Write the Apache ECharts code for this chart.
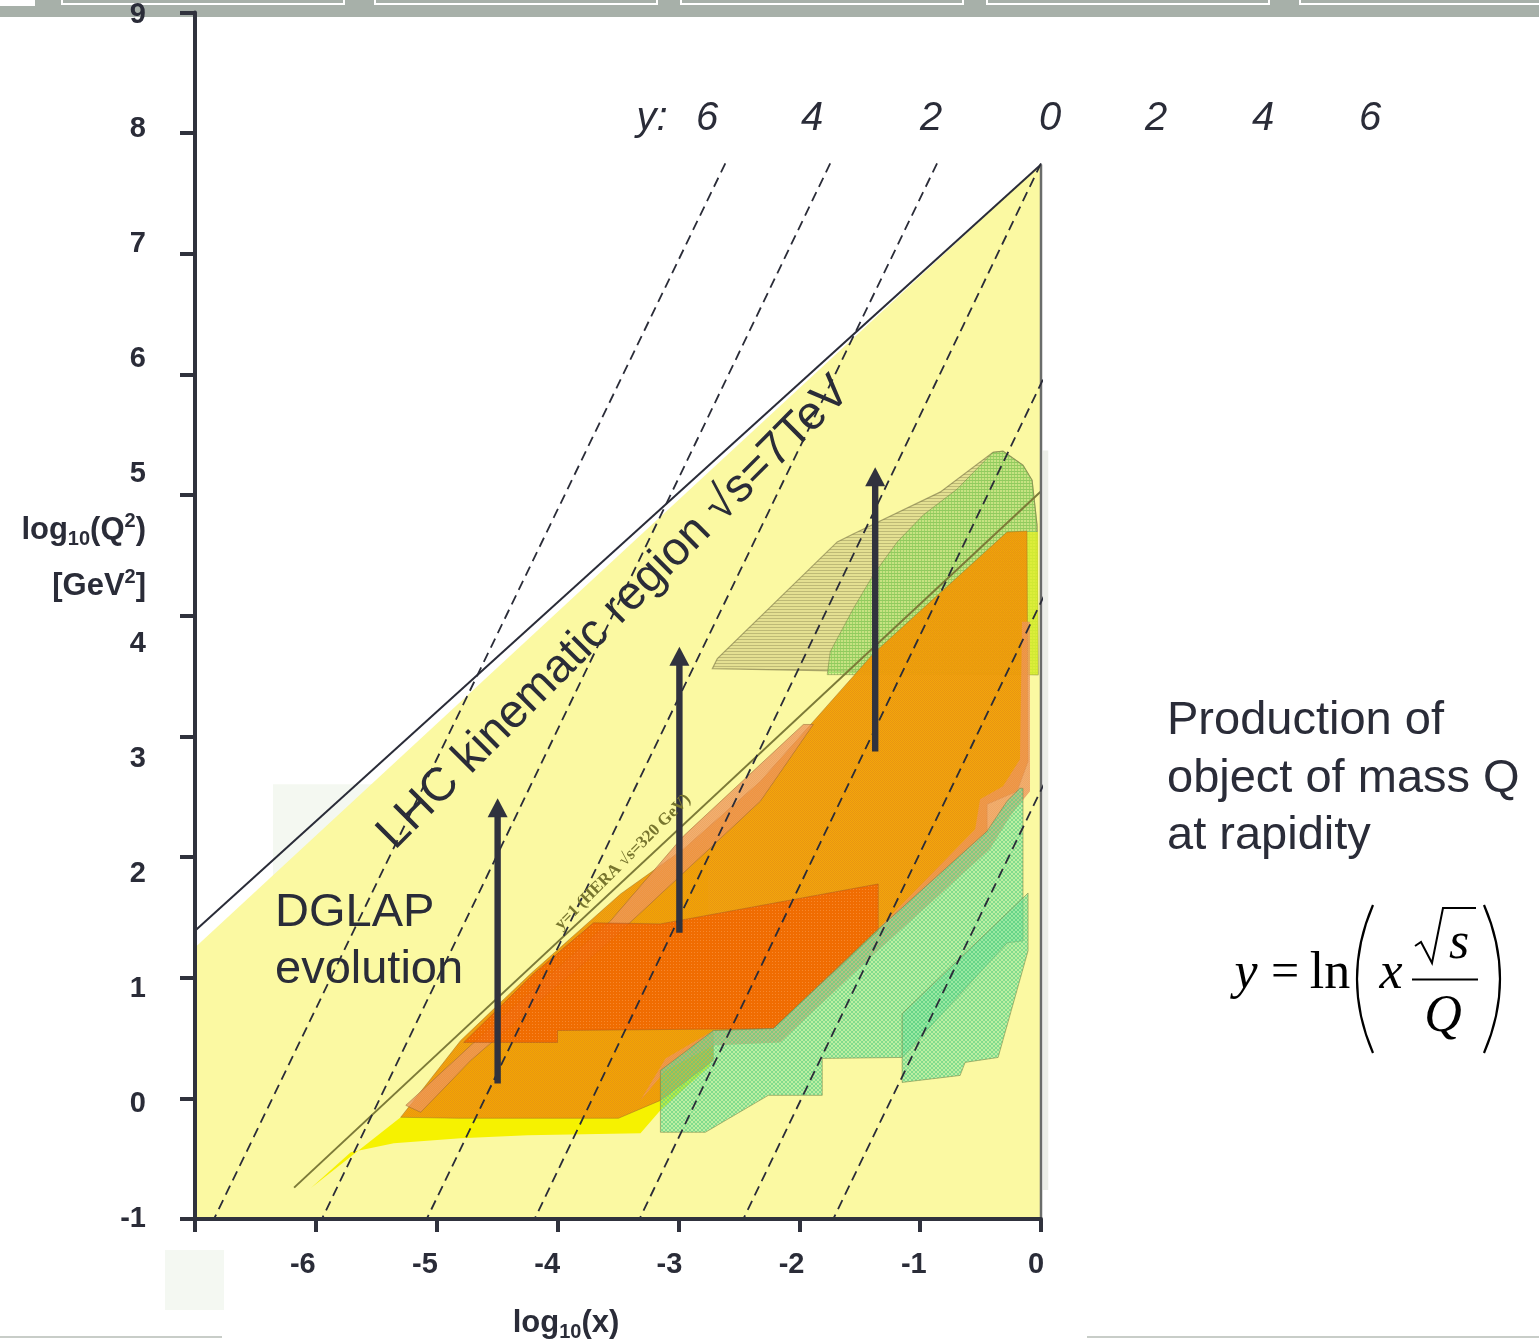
<!DOCTYPE html>
<html><head><meta charset="utf-8">
<script src="https://cdn.jsdelivr.net/npm/echarts@6/dist/echarts.min.js"></script>
<style>html,body{margin:0;padding:0;background:#fff}#c{width:1539px;height:1343px}</style>
</head><body><div id="c"></div>
<script>
// ---------- data (log10 x , log10 Q^2) ----------
const xTickValues = [-6, -5, -4, -3, -2, -1, 0];
const yTickValuesLow = [-1, 0, 1, 2, 3, 4];
const yTickValuesHigh = [5, 6, 7, 8, 9];
const rapidityLabels = ['6', '4', '2', '0', '2', '4', '6'];
const rapidityTop = [[-2.612, 7.75], [-1.744, 7.75], [-0.860, 7.75], [0, 7.75], [0.876, 7.75], [1.752, 7.75], [2.512, 7.75]];
const rapidityBottom = [[-6.843, -1], [-5.950, -1], [-5.083, -1], [-4.190, -1], [-3.322, -1], [-2.463, -1], [-1.719, -1]];
const lhcRegion = [[-7, -1], [-7, 1.25], [0, 7.74], [0, -1]];
const lhcLine = [[-7, 1.39], [0, 7.74]];
const lhcRightEdge = [[0, 7.74], [0, -1]];
const heraLine = [[-6.18, -0.74], [0.02, 5.05]];
const backdropLeft = [[-6.355, -0.76], [-6.355, 2.603], [-5.5, 2.603], [-5.5, -0.76]];
const backdropRight = [[0.015, -0.76], [0.015, 5.37], [0.06, 5.37], [0.06, -0.76]];
const yellowBand = [[-6.041, -0.744], [-5.298, -0.157], [-3.975, 0.934], [-2.901, 2.050], [-2.760, 2.149], [-2.736, 0.273], [-3.149, -0.099], [-3.314, -0.289], [-4.248, -0.306], [-4.802, -0.331], [-5.355, -0.372], [-5.711, -0.446]];
const tanRegion = [[-2.719, 3.562], [-2.678, 3.645], [-1.686, 4.612], [-1.554, 4.678], [-0.835, 5.025], [-0.397, 5.355], [-0.314, 5.364], [-0.149, 5.248], [-0.074, 5.124], [-0.033, 4.752], [-0.025, 3.512]];
const greenUpper = [[-1.769, 3.512], [-1.744, 3.702], [-1.554, 4.058], [-1.388, 4.339], [-1.190, 4.612], [-0.975, 4.835], [-0.694, 5.050], [-0.397, 5.355], [-0.314, 5.364], [-0.149, 5.248], [-0.074, 5.124], [-0.033, 4.752], [-0.025, 3.512]];
const limeStrip = [[-0.116, 3.512], [-0.116, 4.694], [-0.025, 4.694], [-0.025, 3.512]];
const amberRegion = [[-5.298, -0.157], [-4.802, 0.479], [-4.223, 1.033], [-3.479, 1.694], [-2.959, 2.066], [-2.322, 2.628], [-1.388, 3.686], [-0.281, 4.694], [-0.116, 4.702], [-0.107, 2.793], [-0.198, 2.545], [-0.446, 2.438], [-0.446, 2.215], [-1.388, 1.364], [-2.215, 0.579], [-2.711, 0.562], [-2.711, 0.314], [-3.149, -0.017], [-3.496, -0.165], [-4.826, -0.165]];
const salmonUpper = [[-5.256, -0.058], [-4.719, 0.438], [-4.099, 0.992], [-3.562, 1.471], [-2.959, 2.174], [-1.967, 3.099], [-1.884, 3.099], [-2.322, 2.463], [-2.959, 1.868], [-3.562, 1.306], [-4.099, 0.851], [-4.719, 0.314], [-5.132, -0.116]];
const salmonLower = [[-3.314, -0.017], [-3.107, 0.231], [-2.711, 0.438], [-2.157, 0.463], [-1.331, 1.240], [-0.421, 2.066], [-0.256, 2.339], [-0.091, 2.545], [-0.091, 3.950], [-0.157, 3.950], [-0.174, 2.810], [-0.314, 2.587], [-0.504, 2.479], [-0.545, 2.231], [-1.388, 1.364], [-2.215, 0.579], [-2.711, 0.562], [-3.107, 0.331]];
const redRegion = [[-4.777, 0.463], [-4.198, 1.033], [-3.975, 1.223], [-3.702, 1.455], [-3.149, 1.446], [-1.347, 1.777], [-1.347, 1.388], [-2.215, 0.579], [-4.0, 0.562], [-4.0, 0.463]];
const greenLowerA = [[-3.149, 0.231], [-2.711, 0.562], [-2.215, 0.579], [-1.388, 1.364], [-0.446, 2.215], [-0.281, 2.463], [-0.174, 2.570], [-0.149, 2.570], [-0.149, 1.306], [-0.281, 1.289], [-1.149, 0.339], [-1.810, 0.331], [-1.810, 0.025], [-2.256, 0.025], [-2.777, -0.281], [-3.149, -0.281]];
const greenLowerB = [[-1.149, 0.702], [-0.107, 1.702], [-0.107, 1.223], [-0.355, 0.339], [-0.628, 0.298], [-0.669, 0.190], [-1.149, 0.132]];
// arrows: [x, fromQ2, toQ2]
const arrows = [[-4.496, 0.124, 2.488], [-2.992, 1.372, 3.744], [-1.372, 2.876, 5.231]];

// ---------- layout / style ----------
const INK = '#2a2c38';
const SANS = '"Liberation Sans", Arial, Helvetica, sans-serif';
const SERIF = '"Liberation Serif", "Times New Roman", serif';
const rapLabelX = [707, 812, 931, 1050, 1156, 1263, 1370];

function makePattern(w, h, base, ink, cells) {
  const c = document.createElement('canvas');
  c.width = w; c.height = h;
  const g = c.getContext('2d');
  g.fillStyle = base; g.fillRect(0, 0, w, h);
  g.fillStyle = ink;
  cells.forEach(function (p) { g.fillRect(p[0], p[1], 1, 1); });
  return { image: c, repeat: 'repeat' };
}
const patTan = makePattern(3, 3, 'rgba(205,200,130,0.5)', 'rgba(165,160,100,0.6)', [[0, 0], [1, 0], [2, 0]]);
const patGreenUp = makePattern(3, 3, 'rgba(160,228,110,0.42)', 'rgba(120,200,80,0.55)', [[0, 0], [1, 0], [2, 0], [0, 1], [0, 2]]);
const patGreenLow = makePattern(4, 4, 'rgba(110,226,160,0.45)', 'rgba(90,205,130,0.6)', [[0, 0], [1, 1], [2, 2], [3, 3], [3, 0], [2, 1], [1, 2], [0, 3]]);
const patAmber = makePattern(2, 2, 'rgba(243,162,0,0.94)', 'rgba(232,148,20,0.94)', [[0, 0], [1, 1]]);
const patRed = makePattern(3, 3, 'rgba(240,100,0,0.86)', 'rgba(248,140,50,0.86)', [[1, 1]]);
const patSalmon = makePattern(2, 2, 'rgba(236,140,90,0.68)', 'rgba(236,160,90,0.6)', [[0, 0], [1, 1]]);

function polySeries(pts, style, z) {
  return {
    type: 'custom', coordinateSystem: 'cartesian2d', clip: false, silent: true, z: z,
    data: pts, encode: { x: 0, y: 1 },
    renderItem: function (params, api) {
      if (params.dataIndex !== 0) return null;
      return { type: 'polygon', shape: { points: pts.map(p => api.coord(p)) }, style: style };
    }
  };
}
function lineSeries(pts, color, width, type, z) {
  return {
    type: 'line', data: pts, symbol: 'none', clip: false, silent: true, z: z,
    lineStyle: { color: color, width: width, type: type || 'solid' }, animation: false
  };
}

const series = [
  polySeries(backdropLeft, { fill: '#f4f8f1' }, 1),
  polySeries(backdropRight, { fill: '#eceee8' }, 1),
  polySeries(lhcRegion, { fill: '#fbf9a2' }, 2),
  polySeries(tanRegion, { fill: patTan, stroke: 'rgba(120,115,70,0.6)', lineWidth: 1.2 }, 3),
  polySeries(greenUpper, { fill: patGreenUp, stroke: 'rgba(120,130,70,0.5)', lineWidth: 1 }, 3),
  polySeries(limeStrip, { fill: 'rgba(225,240,40,0.8)' }, 3),
  polySeries(yellowBand, { fill: '#f6f200' }, 3),
  polySeries(amberRegion, { fill: patAmber, stroke: 'rgba(150,110,40,0.45)', lineWidth: 1 }, 4),
  polySeries(salmonUpper, { fill: patSalmon, stroke: 'rgba(150,100,50,0.5)', lineWidth: 1 }, 4),
  polySeries(salmonLower, { fill: patSalmon }, 4),
  polySeries(redRegion, { fill: patRed, stroke: 'rgba(150,80,40,0.4)', lineWidth: 1 }, 4),
  polySeries(greenLowerA, { fill: patGreenLow, stroke: 'rgba(120,130,70,0.55)', lineWidth: 1 }, 4),
  polySeries(greenLowerB, { fill: patGreenLow, stroke: 'rgba(120,130,70,0.55)', lineWidth: 1 }, 4),
  lineSeries(heraLine, '#7c7a38', 2, 'solid', 5),
  lineSeries(lhcLine, INK, 2, 'solid', 5),
  lineSeries(lhcRightEdge, '#6b6d6b', 2.5, 'solid', 5)
];
rapidityTop.forEach(function (t, i) {
  series.push(lineSeries([t, rapidityBottom[i]], INK, 1.8, [10, 6], 6));
});
series.push({
  type: 'custom', coordinateSystem: 'cartesian2d', clip: false, silent: true, z: 8,
  data: arrows, encode: { x: 0, y: [1, 2] },
  renderItem: function (params, api) {
    const p0 = api.coord([api.value(0), api.value(1)]);
    const p1 = api.coord([api.value(0), api.value(2)]);
    const hw = 10, hh = 19;
    return { type: 'group', children: [
      { type: 'rect', shape: { x: p0[0] - 3.2, y: p1[1] + hh - 2, width: 6.4, height: p0[1] - p1[1] - hh + 2 }, style: { fill: '#30323e' } },
      { type: 'polygon', shape: { points: [[p1[0], p1[1]], [p1[0] - hw, p1[1] + hh], [p1[0] + hw, p1[1] + hh]] }, style: { fill: '#30323e' } }
    ] };
  }
});

const graphics = [
  { type: 'rect', z: 1, shape: { x: 0, y: 0, width: 1539, height: 17 }, style: { fill: '#a7b0a9' } },
  { type: 'rect', z: 1, shape: { x: 0, y: 0, width: 35, height: 6 }, style: { fill: '#ffffff' } },
  { type: 'rect', z: 1, shape: { x: 0, y: 1343 - 7, width: 222, height: 2 }, style: { fill: '#c8cdc8' } },
  { type: 'rect', z: 1, shape: { x: 1087, y: 1343 - 7, width: 452, height: 2 }, style: { fill: '#c8cdc8' } },
  { type: 'rect', z: 1, shape: { x: 165, y: 1250, width: 59, height: 60 }, style: { fill: '#f4f8f2' } },
  // y-axis name
  { type: 'text', z: 100, x: 146, y: 530, style: { text: '{a|log}{b|10}{a|(Q}{c|2}{a|)}', textAlign: 'right', textVerticalAlign: 'middle',
      rich: { a: { fontSize: 31, fontWeight: 'bold', fontFamily: SANS, fill: INK, lineHeight: 38, verticalAlign: 'middle' },
              b: { fontSize: 20, fontWeight: 'bold', fontFamily: SANS, fill: INK, lineHeight: 20, verticalAlign: 'bottom' },
              c: { fontSize: 20, fontWeight: 'bold', fontFamily: SANS, fill: INK, lineHeight: 20, verticalAlign: 'top' } } } },
  { type: 'text', z: 100, x: 146, y: 586, style: { text: '{a|[GeV}{c|2}{a|]}', textAlign: 'right', textVerticalAlign: 'middle',
      rich: { a: { fontSize: 31, fontWeight: 'bold', fontFamily: SANS, fill: INK, lineHeight: 38, verticalAlign: 'middle' },
              c: { fontSize: 20, fontWeight: 'bold', fontFamily: SANS, fill: INK, lineHeight: 20, verticalAlign: 'top' } } } },
  // x-axis name
  { type: 'text', z: 100, x: 566, y: 1323, style: { text: '{a|log}{b|10}{a|(x)}', textAlign: 'center', textVerticalAlign: 'middle',
      rich: { a: { fontSize: 31, fontWeight: 'bold', fontFamily: SANS, fill: INK, lineHeight: 38, verticalAlign: 'middle' },
              b: { fontSize: 20, fontWeight: 'bold', fontFamily: SANS, fill: INK, lineHeight: 20, verticalAlign: 'bottom' } } } },
  // rotated LHC text
  { type: 'text', z: 100, x: 614, y: 613, rotation: 45 * Math.PI / 180,
    style: { text: 'LHC kinematic region \u221As=7TeV', font: '47px ' + SANS, fill: INK, textAlign: 'center', textVerticalAlign: 'middle' } },
  // HERA label
  { type: 'text', z: 100, x: 623, y: 862, rotation: 45 * Math.PI / 180,
    style: { text: 'y=1 (HERA \u221As=320 GeV)', font: 'bold 17px ' + SERIF, fill: '#77752e', textAlign: 'center', textVerticalAlign: 'middle' } },
  // DGLAP
  { type: 'text', z: 100, x: 275, y: 942, style: { text: 'DGLAP\nevolution', font: '47px ' + SANS, lineHeight: 57, fill: INK, textAlign: 'left', textVerticalAlign: 'middle' } },
  // Production text
  { type: 'text', z: 100, x: 1167, y: 779, style: { text: 'Production of\nobject of mass Q\nat rapidity', font: '47px ' + SANS, lineHeight: 57.5, fill: INK, textAlign: 'left', textVerticalAlign: 'middle' } },
  // y: label
  { type: 'text', z: 100, x: 652, y: 119, style: { text: 'y:', font: 'italic 40px ' + SANS, fill: INK, textAlign: 'center', textVerticalAlign: 'middle' } },
  // formula
  { type: 'text', z: 100, x: 1246, y: 974, style: { text: 'y', font: 'italic 52px ' + SERIF, fill: '#000', textAlign: 'center', textVerticalAlign: 'middle' } },
  { type: 'text', z: 100, x: 1285, y: 974, style: { text: '=', font: '50px ' + SERIF, fill: '#000', textAlign: 'center', textVerticalAlign: 'middle' } },
  { type: 'text', z: 100, x: 1330, y: 974, style: { text: 'ln', font: '52px ' + SERIF, fill: '#000', textAlign: 'center', textVerticalAlign: 'middle' } },
  { type: 'text', z: 100, x: 1391, y: 974, style: { text: 'x', font: 'italic 52px ' + SERIF, fill: '#000', textAlign: 'center', textVerticalAlign: 'middle' } },
  { type: 'text', z: 100, x: 1459, y: 944, style: { text: 's', font: 'italic 52px ' + SERIF, fill: '#000', textAlign: 'center', textVerticalAlign: 'middle' } },
  { type: 'text', z: 100, x: 1443, y: 1017, style: { text: 'Q', font: 'italic 52px ' + SERIF, fill: '#000', textAlign: 'center', textVerticalAlign: 'middle' } },
  { type: 'line', z: 100, shape: { x1: 1412, y1: 979.5, x2: 1478, y2: 979.5 }, style: { stroke: '#000', lineWidth: 2 } },
  { type: 'polyline', z: 100, shape: { points: [[1415, 946], [1421, 942], [1432, 963], [1443, 908], [1476, 908]] }, style: { stroke: '#000', lineWidth: 2, fill: null } },
  { type: 'bezierCurve', z: 100, shape: { x1: 1373, y1: 905, x2: 1373, y2: 1053, cpx1: 1341, cpy1: 979 }, style: { stroke: '#000', lineWidth: 2.2, fill: null } },
  { type: 'bezierCurve', z: 100, shape: { x1: 1484, y1: 905, x2: 1484, y2: 1053, cpx1: 1516, cpy1: 979 }, style: { stroke: '#000', lineWidth: 2.2, fill: null } }
];
[[62, 344], [375, 657], [681, 963], [987, 1269], [1300, 1560]].forEach(function (b) {
  graphics.push({ type: 'rect', z: 1, shape: { x: b[0], y: -10, width: b[1] - b[0], height: 14 }, style: { fill: null, stroke: '#ffffff', lineWidth: 2 } });
});
rapidityLabels.forEach(function (t, i) {
  graphics.push({ type: 'text', z: 100, x: rapLabelX[i], y: 119, style: { text: t, font: 'italic 40px ' + SANS, fill: INK, textAlign: 'center', textVerticalAlign: 'middle' } });
});

const axisLine = { show: true, onZero: false, lineStyle: { color: '#30323d', width: 4 } };
const labelFont = { fontSize: 29, fontWeight: 'bold', fontFamily: SANS, color: INK };
const option = {
  backgroundColor: '#ffffff',
  animation: false,
  grid: { left: 195, right: 498, top: 10, bottom: 124, containLabel: false },
  xAxis: [
    { type: 'value', min: -7, max: 0, interval: 1, z: 10, axisLine: axisLine,
      axisTick: { show: true, length: 13, lineStyle: { color: '#30323d', width: 4 } },
      axisLabel: { show: false }, splitLine: { show: false } },
    { type: 'value', min: -6.882, max: 0.041, position: 'bottom', z: 10,
      axisLine: { show: false, onZero: false }, axisTick: { show: false }, splitLine: { show: false },
      axisLabel: Object.assign({ show: true, margin: 31, customValues: xTickValues }, labelFont) }
  ],
  yAxis: [
    { type: 'value', min: -1, max: 9, interval: 1, z: 10, axisLine: axisLine,
      axisTick: { show: true, length: 15, lineStyle: { color: '#30323d', width: 4 } },
      axisLabel: { show: false }, splitLine: { show: false } },
    { type: 'value', min: -1, max: 9.49, position: 'left', z: 10,
      axisLine: { show: false, onZero: false }, axisTick: { show: false }, splitLine: { show: false },
      axisLabel: Object.assign({ show: true, margin: 49, customValues: yTickValuesLow }, labelFont) },
    { type: 'value', min: -1.496, max: 9.017, position: 'left', z: 10,
      axisLine: { show: false, onZero: false }, axisTick: { show: false }, splitLine: { show: false },
      axisLabel: Object.assign({ show: true, margin: 49, customValues: yTickValuesHigh }, labelFont) }
  ],
  series: series,
  graphic: graphics
};
const chart = echarts.init(document.getElementById('c'), null, { renderer: 'canvas' });
chart.setOption(option);
</script></body></html>
